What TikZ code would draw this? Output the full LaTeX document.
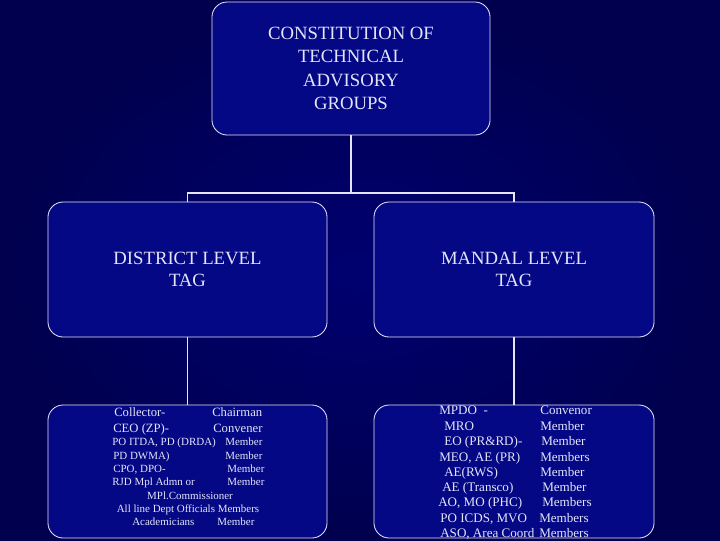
\documentclass[tikz,border=0pt]{standalone}
\usepackage{fontspec}
\setmainfont{Liberation Serif}
\usetikzlibrary{positioning}
\definecolor{slidebg}{RGB}{0,0,112}
\definecolor{slideedge}{RGB}{0,0,78}
\definecolor{tagfill}{RGB}{4,8,132}
\definecolor{tagline}{RGB}{228,228,250}

\begin{document}
\begin{tikzpicture}[x=0.025cm, y=-0.025cm,
    tagbox/.style={draw=tagline, fill=tagfill, line width=0.6pt, rounded corners=0.38cm,
      inner sep=0pt, align=center, text=tagline, font=\fontsize{13.3}{16}\selectfont},
    link/.style={draw=tagline, line width=1.4pt},
    row/.style={anchor=base west, inner sep=0pt, text=tagline},
    rowc/.style={anchor=base, inner sep=0pt, text=tagline}]
  \useasboundingbox (0,0) rectangle (720,540);
  \shade[inner color=slidebg, outer color=slideedge] (0,0) rectangle (720,540);

  \node[tagbox, minimum width=6.95cm, minimum height=3.325cm, font=\fontsize{13.3}{16.6}\selectfont]
       (tag) at (351,68.5) {CONSTITUTION OF\\TECHNICAL\\ADVISORY\\GROUPS};
  \node[tagbox, minimum width=6.975cm, minimum height=3.375cm] (district) at (187.5,269.5)
       {DISTRICT LEVEL\\TAG};
  \node[tagbox, minimum width=7cm, minimum height=3.375cm] (mandal) at (514,269.5)
       {MANDAL LEVEL\\TAG};
  \node[tagbox, minimum width=6.975cm, minimum height=3.325cm] (distmembers) at (187.5,471.5) {};
  \node[tagbox, minimum width=7cm, minimum height=3.325cm] (mandmembers) at (514,471.5) {};

  \coordinate (split) at (351,193);
  \draw[link] (tag.south) -- (split);
  \draw[link] (district.north) |- (split) -| (mandal.north);
  \draw[link] (district.south) -- (distmembers.north);
  \draw[link] (mandal.south) -- (mandmembers.north);

  % district members
  \foreach \xl/\xr/\yb/\lt/\rt [count=\i] in
      {114/212/416.5/{Collector-}/{Chairman},
       113/213/432.5/{CEO (ZP)-}/{Convener}}
  {
    \node[row, font=\fontsize{9}{11}\selectfont] (dl\i) at (\xl,\yb) {\lt};
    \node[row, font=\fontsize{9}{11}\selectfont] (dr\i) at (\xr,\yb) {\rt};
  }
  \foreach \xl/\xr/\yb/\lt/\rt [count=\i from 3] in
      {112/225/445.6/{PO ITDA, PD (DRDA)}/{Member},
       113/225/459.2/{PD DWMA)}/{Member},
       113/227/472/{CPO, DPO-}/{Member},
       112/227/485.6/{RJD Mpl Admn or}/{Member},
       132/217/525.6/{Academicians}/{Member}}
  {
    \node[row, font=\fontsize{7.8}{9}\selectfont] (dl\i) at (\xl,\yb) {\lt};
    \node[row, font=\fontsize{7.8}{9}\selectfont] (dr\i) at (\xr,\yb) {\rt};
  }
  \node[rowc, font=\fontsize{7.8}{9}\selectfont] (dcomm) at (190,499.6) {MPl.Commissioner};
  \node[rowc, font=\fontsize{7.8}{9}\selectfont] (dline) at (188,512.6) {All line Dept Officials Members};

  % mandal members
  \foreach \xl/\xr/\yb/\lt/\rt [count=\i] in
      {439/540/414.5/{MPDO~~-}/{Convenor},
       444/540/430.5/{MRO}/{Member},
       444/541/445.5/{EO (PR\&RD)-}/{Member},
       439/540/461/{MEO, AE (PR)}/{Members},
       444/540/476/{AE(RWS)}/{Member},
       442/542/491.5/{AE (Transco)}/{Member},
       438/542/506.5/{AO, MO (PHC)}/{Members},
       440/539/522/{PO ICDS, MVO}/{Members},
       440/539/537/{ASO, Area Coord}/{Members}}
  {
    \node[row, font=\fontsize{9.3}{11}\selectfont] (ml\i) at (\xl,\yb) {\lt};
    \node[row, font=\fontsize{9.3}{11}\selectfont] (mr\i) at (\xr,\yb) {\rt};
  }
\end{tikzpicture}
\end{document}
